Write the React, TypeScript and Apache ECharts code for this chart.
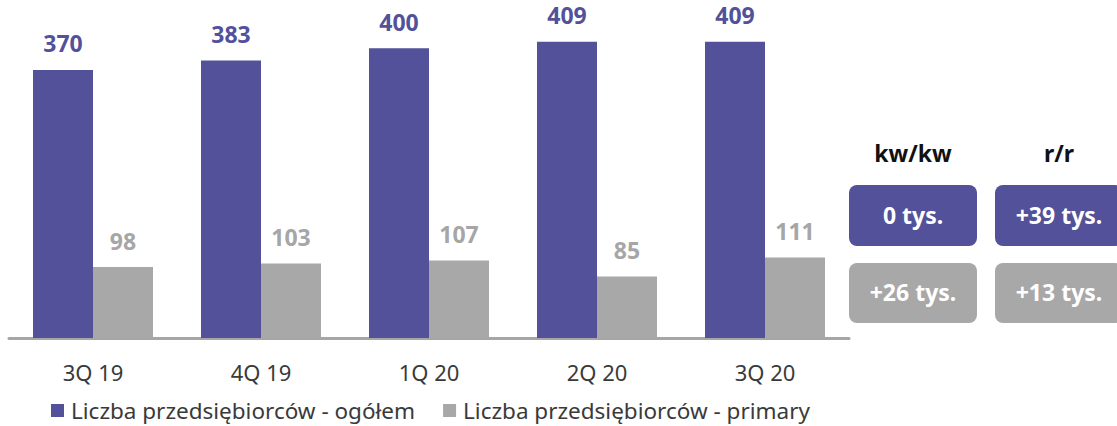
import React, { useEffect, useRef } from "react";
import * as echarts from "echarts";

const categories = ["3Q 19", "4Q 19", "1Q 20", "2Q 20", "3Q 20"];
const totalName = "Liczba przedsiębiorców - ogółem";
const primaryName = "Liczba przedsiębiorców - primary";
const totalValues = [370, 383, 400, 409, 409];
const primaryValues = [98, 103, 107, 85, 111];
const headers = ["kw/kw", "r/r"];
const totalChanges = ["0 tys.", "+39 tys."];
const primaryChanges = ["+26 tys.", "+13 tys."];

const PURPLE = "#525199";
const GRAY = "#A8A8A8";
const FONT = "Noto Sans";

export default function App() {
  const ref = useRef<HTMLDivElement>(null);
  useEffect(() => {
    if (!ref.current) return;
    const chart = echarts.init(ref.current, null, { renderer: "svg" });
    const boxX = [849, 995];
    const boxW = 128;
    const boxH = 61;
    const graphics: any[] = [];
    headers.forEach((h, i) => {
      const cx = boxX[i] + boxW / 2;
      graphics.push({
        type: "text",
        x: cx,
        y: 153,
        style: {
          text: h,
          fill: "#111",
          font: `bold 23px "${FONT}"`,
          textAlign: "center",
          textVerticalAlign: "middle",
        },
      });
      graphics.push({
        type: "rect",
        shape: { x: boxX[i], y: 185, width: boxW, height: boxH, r: 8 },
        style: { fill: PURPLE },
      });
      graphics.push({
        type: "text",
        x: cx,
        y: 215,
        style: {
          text: totalChanges[i],
          fill: "#fff",
          font: `bold 23px "${FONT}"`,
          textAlign: "center",
          textVerticalAlign: "middle",
        },
      });
      graphics.push({
        type: "rect",
        shape: { x: boxX[i], y: 263, width: boxW, height: 60, r: 8 },
        style: { fill: GRAY },
      });
      graphics.push({
        type: "text",
        x: cx,
        y: 292,
        style: {
          text: primaryChanges[i],
          fill: "#fff",
          font: `bold 23px "${FONT}"`,
          textAlign: "center",
          textVerticalAlign: "middle",
        },
      });
    });

    chart.setOption({
      animation: false,
      textStyle: { fontFamily: FONT },
      grid: { left: 9, right: 268, top: 12, bottom: 88, containLabel: false },
      legend: {
        left: 46,
        top: 394,
        icon: "rect",
        itemWidth: 13,
        itemHeight: 13,
        itemGap: 28,
        textStyle: { fontSize: 22.5, color: "#3a3a3a", fontFamily: FONT, padding: [0, 0, 0, 2] },
        data: [totalName, primaryName],
      },
      xAxis: {
        type: "category",
        data: categories,
        offset: 2,
        axisLine: { lineStyle: { color: "#A6A6A6", width: 3 } },
        axisTick: { show: false },
        axisLabel: { fontSize: 22, color: "#3a3a3a", margin: 21, fontFamily: FONT },
      },
      yAxis: {
        type: "value",
        min: 0,
        max: 450,
        show: false,
        splitLine: { show: false },
      },
      series: [
        {
          name: totalName,
          type: "bar",
          data: totalValues,
          barWidth: 60,
          barGap: "0%",
          itemStyle: { color: PURPLE },
          label: {
            show: true,
            position: "top",
            distance: 15,
            color: PURPLE,
            fontSize: 23,
            fontWeight: "bold",
            fontFamily: FONT,
          },
        },
        {
          name: primaryName,
          type: "bar",
          data: primaryValues,
          barWidth: 60,
          barGap: "0%",
          itemStyle: { color: GRAY },
          label: {
            show: true,
            position: "top",
            distance: 15,
            color: "#A6A6A6",
            fontSize: 23,
            fontWeight: "bold",
            fontFamily: FONT,
          },
        },
      ],
      graphic: graphics,
    });
    return () => chart.dispose();
  }, []);
  return (
    <div
      ref={ref}
      style={{ position: "absolute", left: 0, top: 0, width: 1117, height: 426, background: "#fff" }}
    />
  );
}
